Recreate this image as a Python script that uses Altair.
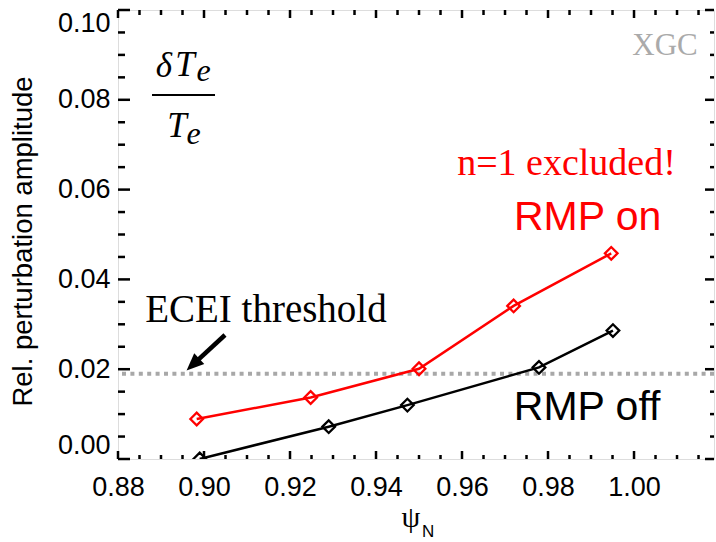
import altair as alt
import pandas as pd

# ---- data ----
psi_on = [0.8983, 0.9248, 0.9500, 0.9720, 0.9947]
amp_on = [0.0089, 0.0137, 0.0201, 0.0341, 0.0458]
psi_off = [0.8990, 0.9290, 0.9473, 0.9779, 0.9951]
amp_off = [0.0000, 0.0072, 0.0120, 0.0204, 0.0286]
threshold = [0.019]

x_ticks = [0.88, 0.90, 0.92, 0.94, 0.96, 0.98, 1.00]
y_ticks = [0.00, 0.02, 0.04, 0.06, 0.08, 0.10]
x_minor = [0.885, 0.89, 0.895, 0.905, 0.91, 0.915, 0.925, 0.93, 0.935, 0.945,
           0.95, 0.955, 0.965, 0.97, 0.975, 0.985, 0.99, 0.995, 1.005, 1.01, 1.015]
y_minor = [0.005, 0.01, 0.015, 0.025, 0.03, 0.035, 0.045, 0.05, 0.055, 0.065,
           0.07, 0.075, 0.085, 0.09, 0.095]

# annotations (data coordinates)
ann_text = ["XGC", "n=1 excluded!", "RMP on", "RMP off", "ECEI threshold"]
ann_x = [1.0072, 0.9843, 0.9892, 0.9891, 0.9144]
ann_y = [0.0900, 0.0633, 0.0510, 0.0087, 0.0305]

frac_text = ["δ", "T", "e", "T", "e"]
frac_x = [0.89070, 0.89560, 0.89988, 0.89372, 0.89756]
frac_y = [0.08508, 0.08530, 0.08419, 0.07171, 0.07016]
frac_size = [35, 35, 32, 35, 32]
frac_bar_x = [0.88791, 0.90256]
frac_bar_y = [0.08107]

arrow_start = [0.90488, 0.02762]
arrow_head = [0.89742, 0.02102]

xtitle_text = ["ψ", "N"]
xtitle_x = [0.94814, 0.95210]
xtitle_y = [-0.01514, -0.01737]

X_DOMAIN = [0.88, 1.0186]
Y_DOMAIN = [0.0, 0.10]
W, H = 596, 449

xs = alt.Scale(domain=X_DOMAIN, nice=False, zero=False)
ys = alt.Scale(domain=Y_DOMAIN, nice=False, zero=False)

df = pd.DataFrame({
    "psi": psi_on + psi_off,
    "amp": amp_on + amp_off,
    "series": ["RMP on"] * len(psi_on) + ["RMP off"] * len(psi_off),
})

x_axis = alt.Axis(values=x_ticks, format=".2f", ticks=False, domain=False, grid=False,
                  labelFlush=False, labelOverlap=False, labelFont="Liberation Sans",
                  labelFontSize=27, labelColor="black", labelPadding=15, title=None)
y_axis = alt.Axis(values=y_ticks, format=".2f", ticks=False, domain=False, grid=False,
                  labelFlush=True, labelOverlap=False, labelFont="Liberation Sans",
                  labelFontSize=27, labelColor="black", labelPadding=8,
                  title="Rel. perturbation amplitude", titleFont="Liberation Sans",
                  titleFontSize=27.5, titleFontWeight="normal", titleColor="black",
                  titleX=-95, titleY=231, titleAngle=270, titleAlign="center",
                  titleBaseline="middle")

color = alt.Color("series:N", scale=alt.Scale(domain=["RMP on", "RMP off"],
                                               range=["#ff0000", "#000000"]), legend=None)

# axes carrier layer (draws nothing visible)
axes_layer = alt.Chart(df).mark_point(opacity=0).encode(
    x=alt.X("psi:Q", scale=xs, axis=x_axis),
    y=alt.Y("amp:Q", scale=ys, axis=y_axis),
)

thr = alt.Chart(pd.DataFrame({"y": threshold})).mark_rule(
    color="#a8a8a8", strokeWidth=4, strokeDash=[4, 4.4]
).encode(y=alt.Y("y:Q", scale=ys, axis=None))

base = alt.Chart(df).encode(
    x=alt.X("psi:Q", scale=xs, axis=None),
    y=alt.Y("amp:Q", scale=ys, axis=None),
    color=color,
    detail="series:N",
)
lines = base.mark_line(strokeWidth=2.5, clip=True)
points = base.mark_point(shape="diamond", filled=False, size=160, strokeWidth=2.3,
                         opacity=1, clip=True)


def xtick(vals, length, top):
    y0, y1 = (0, length) if top else (H, H - length)
    return alt.Chart(pd.DataFrame({"v": vals})).mark_rule(
        color="black", strokeWidth=2.5
    ).encode(x=alt.X("v:Q", scale=xs, axis=None), y=alt.value(y0), y2=alt.value(y1))


def ytick(vals, length, right):
    x0, x1 = (W, W - length) if right else (0, length)
    return alt.Chart(pd.DataFrame({"v": vals})).mark_rule(
        color="black", strokeWidth=2.5
    ).encode(y=alt.Y("v:Q", scale=ys, axis=None), x=alt.value(x0), x2=alt.value(x1))


ticks = [
    xtick(x_ticks, 8, False), xtick(x_minor, 4, False),
    xtick(x_ticks, 8, True), xtick(x_minor, 5, True),
    ytick(y_ticks, 12, False), ytick(y_minor, 7, False),
    ytick(y_ticks, 9, True), ytick(y_minor, 4, True),
]

ann = pd.DataFrame({"t": ann_text, "x": ann_x, "y": ann_y})


def text_layer(i, **kw):
    return alt.Chart(ann.iloc[[i]]).mark_text(baseline="alphabetic", align="center", **kw).encode(
        x=alt.X("x:Q", scale=xs, axis=None), y=alt.Y("y:Q", scale=ys, axis=None), text="t:N")


texts = [
    text_layer(0, font="Liberation Serif", fontSize=31, color="#aaaaaa"),
    text_layer(1, font="Liberation Serif", fontSize=38, color="#ff0000"),
    text_layer(2, font="Liberation Sans", fontSize=41, color="#ff0000"),
    text_layer(3, font="Liberation Sans", fontSize=41, color="#000000"),
    text_layer(4, font="Liberation Serif", fontSize=39, color="#000000"),
]

frac = pd.DataFrame({"t": frac_text, "x": frac_x, "y": frac_y, "s": frac_size})
frac_layer = alt.Chart(frac).mark_text(
    baseline="alphabetic", align="center", font="Liberation Serif", fontStyle="italic", color="black"
).encode(x=alt.X("x:Q", scale=xs, axis=None), y=alt.Y("y:Q", scale=ys, axis=None),
         text="t:N", size=alt.Size("s:Q", scale=None, legend=None))
bar = alt.Chart(pd.DataFrame({"x": [frac_bar_x[0]], "x2": [frac_bar_x[1]], "y": frac_bar_y})).mark_rule(
    color="black", strokeWidth=2
).encode(x=alt.X("x:Q", scale=xs, axis=None), x2="x2:Q", y=alt.Y("y:Q", scale=ys, axis=None))

arrow_line = alt.Chart(pd.DataFrame({"x": [arrow_start[0]], "y": [arrow_start[1]],
                                     "x2": [arrow_head[0]], "y2": [arrow_head[1]]})).mark_rule(
    color="black", strokeWidth=4.5
).encode(x=alt.X("x:Q", scale=xs, axis=None), y=alt.Y("y:Q", scale=ys, axis=None),
         x2="x2:Q", y2="y2:Q")
arrow_tip = alt.Chart(pd.DataFrame({"x": [arrow_head[0]], "y": [arrow_head[1]]})).mark_point(
    shape="M0,-1L0.85,1L-0.85,1Z", filled=True, color="black", size=300, angle=227, opacity=1
).encode(x=alt.X("x:Q", scale=xs, axis=None), y=alt.Y("y:Q", scale=ys, axis=None))

xt = pd.DataFrame({"t": xtitle_text, "x": xtitle_x, "y": xtitle_y})
psi = alt.Chart(xt.iloc[[0]]).mark_text(baseline="alphabetic", align="center",
                                        font="Liberation Serif", fontSize=30, color="black").encode(
    x=alt.X("x:Q", scale=xs, axis=None), y=alt.Y("y:Q", scale=ys, axis=None), text="t:N")
sub_n = alt.Chart(xt.iloc[[1]]).mark_text(baseline="alphabetic", align="center",
                                          font="Liberation Sans", fontSize=17, color="black").encode(
    x=alt.X("x:Q", scale=xs, axis=None), y=alt.Y("y:Q", scale=ys, axis=None), text="t:N")

chart = alt.layer(
    axes_layer, thr, lines, points, *ticks, *texts, frac_layer, bar, arrow_line, arrow_tip, psi, sub_n
).resolve_axis(x="independent", y="independent").properties(
    width=W, height=H,
    padding={"left": 118, "top": 10, "right": 2, "bottom": 83},
    autosize=alt.AutoSizeParams(type="none"),
).configure_view(stroke="black", strokeWidth=3).configure(background="white")

chart.save("out.html", embed_options={"renderer": "svg", "actions": False})
